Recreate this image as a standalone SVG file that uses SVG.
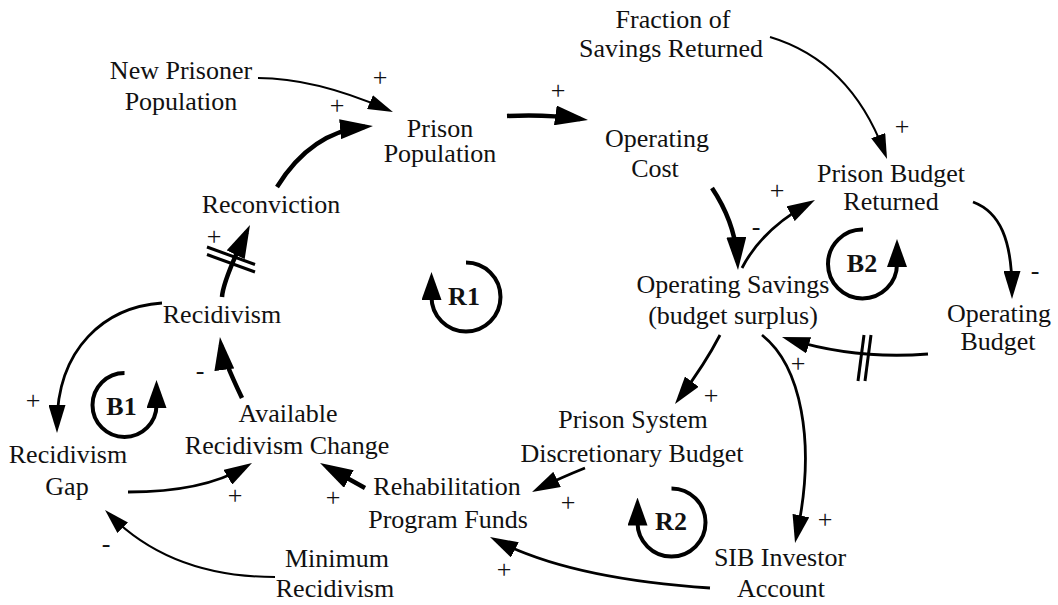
<svg xmlns="http://www.w3.org/2000/svg" width="1058" height="605" viewBox="0 0 1058 605">
  <style>
    text { font-family: "Liberation Serif", "Times New Roman", serif; font-size: 26px; fill: #111; text-anchor: middle; }
    .loop text { font-weight: bold; }
    .link { fill: none; stroke: #000; stroke-linecap: butt; }
    .w1 { stroke-width: 2; }
    .w2 { stroke-width: 2.8; }
    .w3 { stroke-width: 4.5; }
    .loop path { fill: none; stroke: #000; stroke-width: 4; }
    .delay { stroke: #000; stroke-width: 3; }
  </style>
  <defs>
    <marker id="ahS" viewBox="0 0 25 15" markerWidth="25" markerHeight="15" refX="17" refY="7.5" orient="auto" markerUnits="userSpaceOnUse">
      <path d="M0,0 L25,7.5 L0,15 Z" fill="#000"/>
    </marker>
    <marker id="ah" viewBox="0 0 28 17" markerWidth="28" markerHeight="17" refX="20" refY="8.5" orient="auto" markerUnits="userSpaceOnUse">
      <path d="M0,0 L28,8.5 L0,17 Z" fill="#000"/>
    </marker>
    <marker id="ahL" viewBox="0 0 33 20" markerWidth="33" markerHeight="20" refX="25" refY="10" orient="auto" markerUnits="userSpaceOnUse">
      <path d="M0,0 L33,10 L0,20 Z" fill="#000"/>
    </marker>
    <marker id="lh" viewBox="0 0 28 20" markerWidth="28" markerHeight="20" refX="3" refY="10" orient="auto" markerUnits="userSpaceOnUse">
      <path d="M0,0 L28,10 L0,20 Z" fill="#000"/>
    </marker>
  </defs>

  <rect width="1058" height="605" fill="#fff"/>

  <!-- causal links -->
  <g id="connectors">
    <path class="link w1" d="M258,78 Q314,78 385.6,108.8" marker-end="url(#ahS)"/>
    <path class="link w3" d="M277,187 Q311,132 365,126.8" marker-end="url(#ahL)"/>
    <path class="link w3" d="M507,116 Q545,114 580.1,118.9" marker-end="url(#ahL)"/>
    <path class="link w1" d="M770,37 Q850,61 884.2,151.5" marker-end="url(#ahS)"/>
    <path class="link w3" d="M712,188 Q735.7,223.5 737.6,262" marker-end="url(#ahL)"/>
    <path class="link w2" d="M742,268 Q761.6,229.9 808,203.9" marker-end="url(#ah)"/>
    <path class="link w2" d="M973,202 C1000,212 1012,240 1012,291" marker-end="url(#ah)"/>
    <path class="link w2" d="M928,354 Q855.8,359.7 789.6,339.4" marker-end="url(#ah)"/>
    <path class="link w2" d="M720,335 Q705,364 679.8,397.6" marker-end="url(#ah)"/>
    <path class="link w2" d="M762,335 C800,365 817,440 796.7,535.2" marker-end="url(#ah)"/>
    <path class="link w2" d="M585,468 Q560,478 539.2,488.4" marker-end="url(#ah)"/>
    <path class="link w2" d="M710,588 Q570.7,578.7 497.1,540.7" marker-end="url(#ah)"/>
    <path class="link w3" d="M365,488 L327,466.9" marker-end="url(#ahL)"/>
    <path class="link w1" d="M275,577 Q172,577 110.7,515.7" marker-end="url(#ahS)"/>
    <path class="link w2" d="M128,492 Q203,492 245.1,467.1" marker-end="url(#ah)"/>
    <path class="link w3" d="M242,398 Q222.7,357.7 221,345" marker-end="url(#ahL)"/>
    <path class="link w3" d="M222,297 Q223,281 246.5,232.2" marker-end="url(#ahL)"/>
    <path class="link w2" d="M162,303 C105,307 57,348 57,425" marker-end="url(#ah)"/>

    <!-- delay marks -->
    <line class="delay" x1="207" y1="247" x2="255" y2="264.5"/>
    <line class="delay" x1="207" y1="254.5" x2="255" y2="272"/>
    <line class="delay" x1="864" y1="335" x2="858" y2="381"/>
    <line class="delay" x1="871" y1="335" x2="865" y2="381"/>

    <!-- polarity signs -->
    <text x="380" y="86">+</text>
    <text x="337" y="114">+</text>
    <text x="558" y="99">+</text>
    <text x="902" y="135">+</text>
    <text x="777" y="199">+</text>
    <text x="756" y="235">-</text>
    <text x="1035" y="279">-</text>
    <text x="798" y="372">+</text>
    <text x="711" y="404">+</text>
    <text x="825" y="528">+</text>
    <text x="568" y="511">+</text>
    <text x="504" y="578">+</text>
    <text x="333" y="506">+</text>
    <text x="235" y="504">+</text>
    <text x="106" y="552">-</text>
    <text x="33" y="409">+</text>
    <text x="200" y="379">-</text>
    <text x="214" y="245">+</text>
  </g>

  <!-- variables -->
  <g id="new-prisoner-population">
    <text x="181" y="79">New Prisoner</text>
    <text x="181" y="110">Population</text>
  </g>
  <g id="prison-population">
    <text x="440" y="137">Prison</text>
    <text x="440" y="162">Population</text>
  </g>
  <g id="fraction-of-savings-returned">
    <text x="673" y="28">Fraction of</text>
    <text x="671" y="57">Savings Returned</text>
  </g>
  <g id="operating-cost">
    <text x="657" y="147">Operating</text>
    <text x="655" y="177">Cost</text>
  </g>
  <g id="prison-budget-returned">
    <text x="891" y="182">Prison Budget</text>
    <text x="891" y="210">Returned</text>
  </g>
  <g id="reconviction">
    <text x="271" y="213">Reconviction</text>
  </g>
  <g id="recidivism">
    <text x="222" y="323">Recidivism</text>
  </g>
  <g id="operating-savings">
    <text x="733" y="293">Operating Savings</text>
    <text x="733" y="324">(budget surplus)</text>
  </g>
  <g id="operating-budget">
    <text x="999" y="322">Operating</text>
    <text x="998" y="350">Budget</text>
  </g>
  <g id="available-recidivism-change">
    <text x="288" y="422">Available</text>
    <text x="287" y="454">Recidivism Change</text>
  </g>
  <g id="recidivism-gap">
    <text x="68" y="463">Recidivism</text>
    <text x="67" y="495">Gap</text>
  </g>
  <g id="prison-system-discretionary-budget">
    <text x="633" y="428">Prison System</text>
    <text x="632" y="462">Discretionary Budget</text>
  </g>
  <g id="rehabilitation-program-funds">
    <text x="447" y="495">Rehabilitation</text>
    <text x="448" y="528">Program Funds</text>
  </g>
  <g id="minimum-recidivism">
    <text x="337" y="567">Minimum</text>
    <text x="335" y="597">Recidivism</text>
  </g>
  <g id="sib-investor-account">
    <text x="780" y="566">SIB Investor</text>
    <text x="781" y="597">Account</text>
  </g>

  <!-- loop identifiers -->
  <g id="loop-R1" class="loop">
    <path d="M466,262.5 A34.5,34.5 0 1 1 431.5,297" marker-end="url(#lh)"/>
    <text x="464" y="305">R1</text>
  </g>
  <g id="loop-B2" class="loop">
    <path d="M863,229.5 A34.5,34.5 0 1 0 897,264" marker-end="url(#lh)"/>
    <text x="862" y="272">B2</text>
  </g>
  <g id="loop-R2" class="loop">
    <path d="M671.5,488.5 A34,34 0 1 1 637.5,522.5" marker-end="url(#lh)"/>
    <text x="671" y="530">R2</text>
  </g>
  <g id="loop-B1" class="loop">
    <path d="M124.5,373 A32,32 0 1 0 156.5,405" marker-end="url(#lh)"/>
    <text x="121.5" y="415">B1</text>
  </g>
</svg>
